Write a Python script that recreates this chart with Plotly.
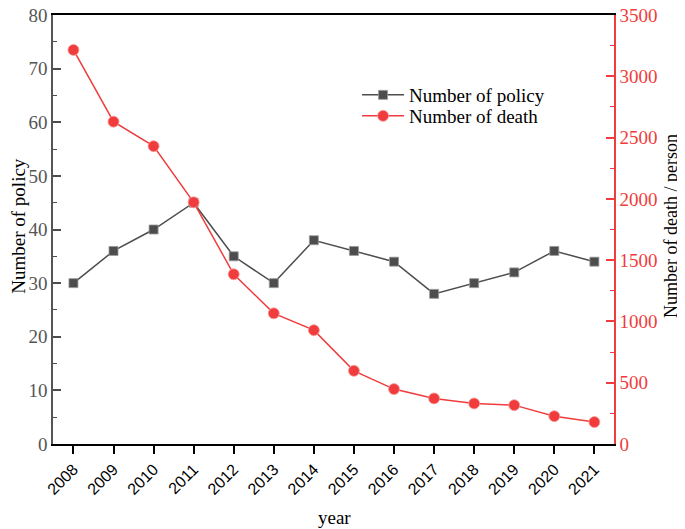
import plotly.graph_objects as go

years = [2008, 2009, 2010, 2011, 2012, 2013, 2014, 2015, 2016, 2017, 2018, 2019, 2020, 2021]
policy = [30, 36, 40, 45, 35, 30, 38, 36, 34, 28, 30, 32, 36, 34]
deaths = [3215, 2630, 2430, 1972, 1385, 1066, 929, 597, 448, 372, 331, 317, 227, 179]
year_labels = [str(y) for y in years]

GRAY = "#4d4d4d"
RED = "#f03c3c"
SERIF = "Liberation Serif, Times New Roman, serif"
SANS = "Liberation Sans, Arial, sans-serif"

fig = go.Figure()
fig.add_trace(go.Scatter(
    x=years, y=policy, name="Number of policy", mode="lines+markers",
    line=dict(color=GRAY, width=1.5),
    marker=dict(symbol="square", size=9, color=GRAY, line=dict(color="#9a9a9a", width=0.8)),
    yaxis="y", legend="legend",
))
fig.add_trace(go.Scatter(
    x=years, y=deaths, name="Number of death", mode="lines+markers",
    line=dict(color=RED, width=1.5),
    marker=dict(symbol="circle", size=11, color=RED, line=dict(color="#f7a0a0", width=0.8)),
    yaxis="y2", legend="legend2",
))

leg_common = dict(xanchor="left", yanchor="middle", bgcolor="rgba(0,0,0,0)", borderwidth=0,
                  font=dict(family=SERIF, size=19, color="black"), itemwidth=42)

fig.update_layout(
    width=677, height=521,
    margin=dict(l=45, r=71, t=7, b=85, pad=0, autoexpand=False),
    paper_bgcolor="white", plot_bgcolor="white",
    showlegend=True,
    legend=dict(x=0.542, y=0.8135, **leg_common),
    legend2=dict(x=0.542, y=0.7646, **leg_common),
    xaxis=dict(
        range=[2007.49, 2021.49], tickmode="array", tickvals=years, ticktext=year_labels,
        tickangle=-45, ticks="outside", ticklen=8, tickwidth=1.5, tickcolor="black",
        showline=True, linecolor="black", linewidth=1.5, mirror=True,
        showgrid=False, zeroline=False, automargin=False, ticklabeloverflow="allow",
        tickfont=dict(family=SANS, size=16, color="black"),
    ),
    yaxis=dict(
        range=[0, 80], tickmode="array", tickvals=[0, 10, 20, 30, 40, 50, 60, 70, 80],
        ticks="inside", ticklen=8, tickwidth=1.5, tickcolor=GRAY,
        minor=dict(dtick=5, ticks="inside", ticklen=4, tickwidth=1, tickcolor=GRAY),
        showline=True, linecolor="#555555", linewidth=1.5,
        showgrid=False, zeroline=False, automargin=False, ticklabeloverflow="allow",
        tickfont=dict(family=SERIF, size=19, color="#555555"),
    ),
    yaxis2=dict(
        range=[0, 3500], tickmode="array", tickvals=[0, 500, 1000, 1500, 2000, 2500, 3000, 3500],
        overlaying="y", side="right", anchor="x",
        ticks="inside", ticklen=8, tickwidth=1.5, tickcolor=RED,
        minor=dict(dtick=250, ticks="inside", ticklen=4, tickwidth=1, tickcolor=RED),
        showline=True, linecolor=RED, linewidth=1.5,
        showgrid=False, zeroline=False, automargin=False, ticklabeloverflow="allow",
        tickfont=dict(family=SERIF, size=19, color=RED),
    ),
    annotations=[
        dict(text="Number of policy", xref="paper", yref="paper", x=-0.063, y=0.508,
             textangle=-90, showarrow=False, xanchor="center", yanchor="middle",
             font=dict(family=SERIF, size=19, color="black")),
        dict(text="Number of death / person", xref="paper", yref="paper", x=1.1016, y=0.508,
             textangle=-90, showarrow=False, xanchor="center", yanchor="middle",
             font=dict(family=SERIF, size=18, color="black")),
        dict(text="year", xref="paper", yref="paper", x=0.501, y=-0.1702,
             showarrow=False, xanchor="center", yanchor="middle",
             font=dict(family=SERIF, size=19, color="black")),
    ],
)

fig.write_html("out.html")
